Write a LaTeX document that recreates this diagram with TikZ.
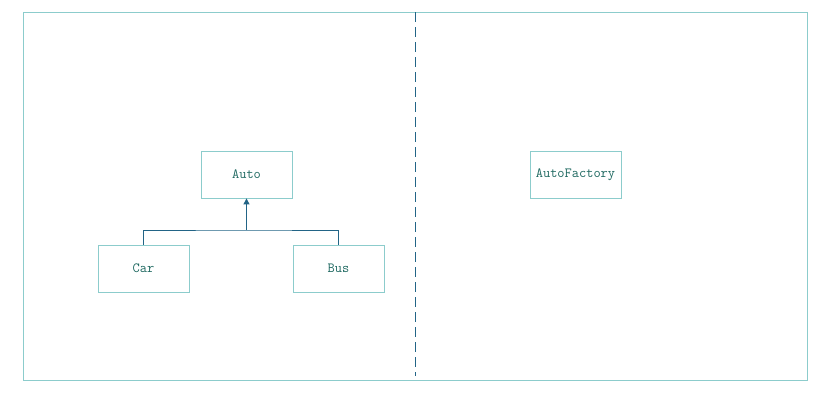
\documentclass[tikz,border=0pt]{standalone}
\usetikzlibrary{arrows.meta}
\definecolor{frameline}{RGB}{140,204,204}
\definecolor{linkline}{RGB}{34,100,134}
\definecolor{labeltext}{RGB}{30,104,96}
\tikzset{
  classbox/.style={draw=frameline, line width=0.8pt, minimum width=91pt, minimum height=47pt,
    inner sep=0pt, font=\ttfamily\fontsize{14}{16}\selectfont, text=labeltext},
  link/.style={draw=linkline, line width=0.9pt},
}
\begin{document}
\begin{tikzpicture}[x=1pt,y=-1pt]
  \useasboundingbox (0,0) rectangle (821,405);
  % outer frame
  \draw[frameline, line width=0.8pt] (23,12) rectangle (807,380);
  % divider between the two halves
  \coordinate (divtop) at (415,12);
  \coordinate (divbot) at (415,376);
  \draw[link, dash pattern=on 10pt off 5pt] (divtop) -- (divbot);
  % classes
  \node[classbox] (auto) at (246.5,174.5) {Auto};
  \node[classbox] (car) at (143.5,268.5) {Car};
  \node[classbox] (bus) at (338.5,268.5) {Bus};
  \node[classbox] (factory) at (575.5,174.5) {AutoFactory};
  % inheritance tree
  \coordinate (joint) at (auto.south |- 0,230);
  \draw[link] (car.north) |- (joint) -| (bus.north);
  \draw[link, -{Triangle[length=6pt,width=6pt]}] (joint) -- (auto.south);
\end{tikzpicture}
\end{document}
